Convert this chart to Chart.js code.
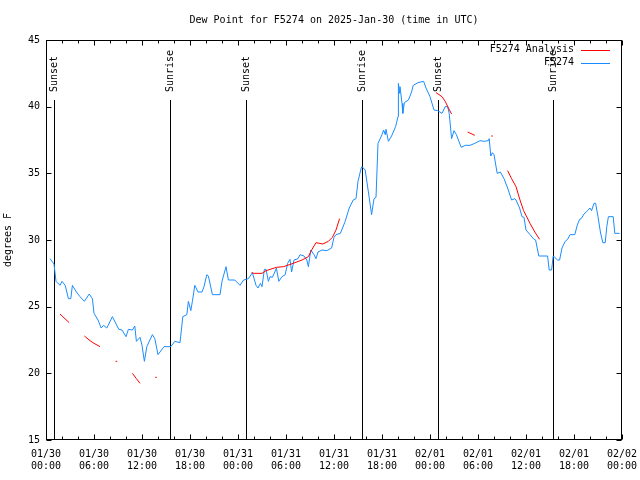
<!DOCTYPE html>
<html><head><meta charset="utf-8">
<script src="https://cdn.jsdelivr.net/npm/chart.js@4"></script>
<style>html,body{margin:0;padding:0;background:#fff}#wrap{width:640px;height:480px}</style>
</head><body><div id="wrap"><canvas id="c" width="640" height="480"></canvas></div>
<script>
const chartTitle = 'Dew Point for F5274 on 2025-Jan-30 (time in UTC)';
const yAxisLabel = 'degrees F';
const seriesNames = ['F5274 Analysis', 'F5274'];
const tickDates = ['01/30','01/30','01/30','01/30','01/31','01/31','01/31','01/31','02/01','02/01','02/01','02/01','02/02'];
const tickTimes = ['00:00','06:00','12:00','18:00','00:00','06:00','12:00','18:00','00:00','06:00','12:00','18:00','00:00'];
const eventHours = [1.04, 15.5, 25.0, 39.5, 49.04, 63.4];
const eventLabels = ['Sunset', 'Sunrise', 'Sunset', 'Sunrise', 'Sunset', 'Sunrise'];

// observed dew point (hours since 01/30 00:00 UTC)
const obsHours = [0.5,1.0,1.25,1.75,2.0,2.4,2.8,3.1,3.3,3.8,4.25,4.8,5.4,5.8,6.0,6.5,6.9,7.2,7.6,8.3,9.1,9.5,10.0,10.3,10.8,11.1,11.3,11.75,12.0,12.3,12.6,13.3,13.6,14.0,14.75,15.6,16.1,16.75,17.1,17.6,17.8,18.1,18.3,18.6,19.0,19.5,19.75,20.1,20.3,20.8,21.75,22.0,22.5,22.8,23.6,24.25,24.7,25.3,25.8,26.25,26.5,26.8,27.0,27.3,27.5,27.8,28.0,28.3,28.6,28.8,29.1,29.5,29.9,30.2,30.5,30.7,31.0,31.5,31.75,32.25,32.6,32.8,33.1,33.5,33.75,34.0,34.5,35.1,35.7,36.0,36.25,36.8,37.4,37.9,38.4,38.75,39.0,39.4,39.5,39.9,40.3,40.7,41.0,41.25,41.5,42.0,42.2,42.4,42.5,42.8,43.2,43.7,44.0,44.05,44.2,44.25,44.5,44.6,44.8,45.3,45.7,45.9,46.5,47.2,47.5,48.0,48.5,48.95,49.5,49.9,50.2,50.4,50.7,51.0,51.3,51.9,52.4,53.0,53.6,54.25,54.8,55.3,55.4,55.6,55.8,56.0,56.4,56.8,57.25,57.7,58.2,58.6,58.75,59.2,59.5,59.75,60.0,60.5,61.0,61.2,61.6,62.7,62.9,63.2,63.4,63.6,63.95,64.2,64.5,64.9,65.2,65.5,66.1,66.4,66.7,66.9,67.25,67.7,68.0,68.2,68.5,68.7,69.0,69.3,69.6,69.9,70.1,70.3,70.9,71.1,71.7];
const obsValues = [28.6,28.2,26.9,26.6,26.9,26.6,25.6,25.6,26.6,26.1,25.75,25.4,25.95,25.6,24.5,24.0,23.4,23.6,23.4,24.25,23.3,23.25,22.75,23.3,23.25,23.55,22.4,22.7,22.1,20.9,22.0,22.9,22.6,21.4,22.0,22.0,22.4,22.3,24.25,24.4,25.4,24.7,25.4,26.6,26.1,26.1,26.5,27.4,27.3,25.9,25.9,26.9,28.0,27.0,27.0,26.6,27.0,27.1,27.55,26.6,26.4,26.75,26.5,27.8,27.8,26.9,27.25,27.2,27.6,27.9,26.9,27.25,27.4,28.25,28.55,27.6,28.5,28.6,28.9,28.8,28.5,28.0,29.25,28.9,28.6,29.1,29.25,29.2,29.4,30.2,30.4,30.5,31.4,32.4,33.0,33.1,34.4,35.4,35.5,35.25,33.6,31.9,33.1,33.2,37.25,37.9,38.25,37.9,38.3,37.4,37.8,38.5,39.25,41.75,41.0,41.5,40.25,39.5,40.3,40.5,41.1,41.6,41.8,41.9,41.4,40.75,39.75,39.7,39.5,40.0,40.0,39.5,37.6,38.2,37.9,36.95,37.1,37.1,37.25,37.45,37.4,37.45,37.6,36.3,36.55,36.4,35.0,35.1,34.6,33.9,33.0,33.1,33.0,32.4,31.75,31.7,30.75,30.4,30.05,30.0,28.8,28.8,27.75,27.75,28.8,28.7,28.5,28.5,29.4,29.9,30.05,30.4,30.4,31.1,31.55,31.6,31.95,32.2,32.4,32.2,32.75,32.75,31.75,30.6,29.8,29.8,31.0,31.75,31.75,30.5,30.5];

// analysis dew point (null = gap)
const anaHours = [1.75,2.9,3.5, 4.8,5.5,6.0,6.75,7.5, 8.7,8.9,9.5, 10.8,11.3,11.75,12.5, 13.65,13.85,14.5, 25.7,26.0,27.0,27.5,28.8,29.7,30.9,32.0,32.8,33.2,33.75,34.6,35.3,35.8,36.25,36.7,40.0, 48.75,49.5,49.9,50.3,50.7,51.5, 52.7,53.6,54.5, 55.65,55.85,56.5, 57.7,58.2,58.75,59.25,59.7,60.5,61.1,61.7];
const anaValues = [24.45,23.8,null, 22.8,22.45,22.25,22.0,null, 20.9,20.9,null, 20.0,19.6,19.25,null, 19.7,19.7,null, 27.55,27.5,27.5,27.7,27.95,28.0,28.25,28.5,28.75,29.25,29.8,29.7,29.9,30.2,30.75,31.6,null, 41.05,40.75,40.4,39.9,39.45,null, 38.1,37.85,null, 37.8,37.8,null, 35.2,34.6,34.0,33.0,32.2,31.25,30.6,30.05];

const FONT = '"DejaVu Sans Mono", "Liberation Mono", monospace';
const RED = '#ff0000';
const BLUE = '#1a8cff';

const framePlugin = {
  id: 'frame',
  beforeDatasetsDraw(chart) {
    const {ctx, chartArea: a, scales: {x}} = chart;
    ctx.save();
    ctx.strokeStyle = '#000';
    ctx.lineWidth = 1;
    ctx.fillStyle = '#000';
    ctx.font = '10px ' + FONT;
    eventHours.forEach((h, i) => {
      const px = Math.round(x.getPixelForValue(h)) + 0.5;
      ctx.beginPath();
      ctx.moveTo(px, a.top + 60);
      ctx.lineTo(px, a.bottom);
      ctx.stroke();
      ctx.save();
      ctx.translate(px, a.top + 52);
      ctx.rotate(-Math.PI / 2);
      ctx.textAlign = 'left';
      ctx.textBaseline = 'middle';
      ctx.fillText(eventLabels[i], 0, 0);
      ctx.restore();
    });
    ctx.restore();
  },
  afterDraw(chart) {
    const {ctx, chartArea: a, scales: {x, y}} = chart;
    ctx.save();
    ctx.strokeStyle = '#000';
    ctx.lineWidth = 1;
    const L = Math.round(a.left) + 0.5, R = Math.round(a.right) - 0.5;
    const T = Math.round(a.top) + 0.5, B = Math.round(a.bottom) - 0.5;
    ctx.strokeRect(L, T, R - L, B - T);
    ctx.beginPath();
    for (let h = 0; h <= 72; h += 2) {
      const px = Math.round(x.getPixelForValue(h)) + 0.5;
      const len = (h % 6 === 0) ? 5 : 3;
      ctx.moveTo(px, B); ctx.lineTo(px, B - len);
      ctx.moveTo(px, T); ctx.lineTo(px, T + len);
    }
    for (let v = 15; v <= 45; v += 5) {
      const py = Math.round(y.getPixelForValue(v)) + 0.5;
      ctx.moveTo(L, py); ctx.lineTo(L + 5, py);
      ctx.moveTo(R, py); ctx.lineTo(R - 5, py);
    }
    ctx.stroke();
    // y axis title
    ctx.fillStyle = '#000';
    ctx.font = '10px ' + FONT;
    ctx.save();
    ctx.translate(8, (a.top + a.bottom) / 2);
    ctx.rotate(-Math.PI / 2);
    ctx.textAlign = 'center';
    ctx.textBaseline = 'middle';
    ctx.fillText(yAxisLabel, 0, 0);
    ctx.restore();
    // legend
    const colors = [RED, BLUE];
    ctx.textAlign = 'right';
    ctx.textBaseline = 'middle';
    seriesNames.forEach((n, i) => {
      const ly = a.top + 9.5 + i * 13;
      ctx.fillStyle = '#000';
      ctx.fillText(n, a.right - 48, ly);
      ctx.strokeStyle = colors[i];
      ctx.beginPath();
      ctx.moveTo(a.right - 41, Math.round(ly) + 0.5);
      ctx.lineTo(a.right - 12, Math.round(ly) + 0.5);
      ctx.stroke();
    });
    ctx.restore();
  }
};

new Chart(document.getElementById('c'), {
  type: 'line',
  data: {
    datasets: [
      {
        label: seriesNames[0],
        data: anaHours.map((h, i) => ({x: h, y: anaValues[i]})),
        borderColor: RED, backgroundColor: RED, borderWidth: 1,
        pointRadius: 0, tension: 0, spanGaps: false, fill: false
      },
      {
        label: seriesNames[1],
        data: obsHours.map((h, i) => ({x: h, y: obsValues[i]})),
        borderColor: BLUE, backgroundColor: BLUE, borderWidth: 1,
        pointRadius: 0, tension: 0, fill: false
      }
    ]
  },
  options: {
    responsive: false,
    animation: false,
    devicePixelRatio: 1,
    layout: {padding: {left: 0, right: 18, top: 0, bottom: 0}},
    plugins: {
      legend: {display: false},
      tooltip: {enabled: false},
      title: {
        display: true, text: chartTitle, color: '#000', fullSize: false,
        font: {family: FONT, size: 10, weight: 'normal', lineHeight: 1.2},
        padding: {top: 14, bottom: 14}
      }
    },
    scales: {
      x: {
        type: 'linear', min: 0, max: 72,
        grid: {display: false, drawTicks: false},
        border: {display: false},
        ticks: {
          stepSize: 6, autoSkip: false, maxRotation: 0, padding: 8, color: '#000',
          font: {family: FONT, size: 10, lineHeight: 1.25},
          callback: (v, i) => [tickDates[i], tickTimes[i]]
        },
        afterFit: s => { s.height = 40; s.paddingLeft = 0; s.paddingRight = 0; }
      },
      y: {
        min: 15, max: 45,
        grid: {display: false, drawTicks: false},
        border: {display: false},
        ticks: {stepSize: 5, padding: 6, color: '#000', font: {family: FONT, size: 10}},
        afterFit: s => { s.width = 46; s.paddingTop = 0; s.paddingBottom = 0; }
      }
    }
  },
  plugins: [framePlugin]
});
</script>
</body></html>
